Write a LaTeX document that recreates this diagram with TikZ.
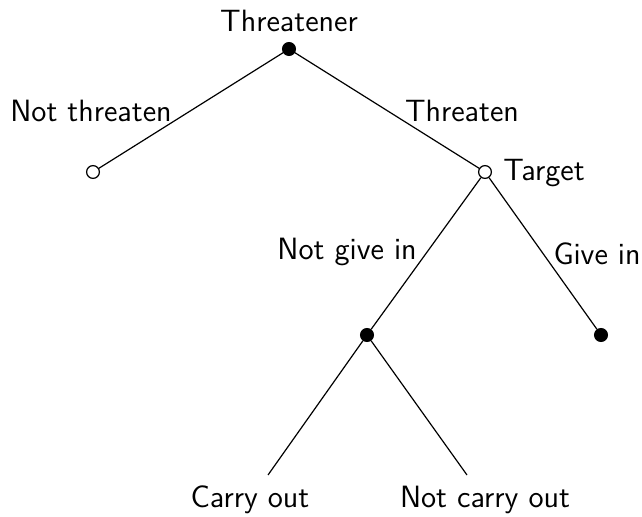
\documentclass[tikz,border=0pt]{standalone}
\begin{document}
\begin{tikzpicture}[x=0.5pt,y=-0.5pt,
  every node/.style={font=\fontsize{15.4}{18}\selectfont\sffamily},
  filleddot/.style={circle,fill=black,draw=black,line width=0.6pt,inner sep=0pt,minimum size=6.4pt},
  opendot/.style={circle,fill=white,draw=black,line width=0.6pt,inner sep=0pt,minimum size=6.4pt},
  lbl/.style={anchor=base,inner sep=0pt},
  edge/.style={line width=0.6pt,draw=black}]
\useasboundingbox (0,0) rectangle (642,517);
% nodes
\node[filleddot] (root) at (289,49) {};
\node[opendot] (left) at (93,172) {};
\node[opendot] (target) at (485,172) {};
\node[filleddot] (mid) at (367,335) {};
\node[filleddot] (right) at (601,335) {};
\coordinate (carry) at (268,475);
\coordinate (notcarry) at (467,475);
% edges
\draw[edge] (root) -- (left);
\draw[edge] (root) -- (target);
\draw[edge] (target) -- (mid);
\draw[edge] (target) -- (right);
\draw[edge] (mid) -- (carry);
\draw[edge] (mid) -- (notcarry);
% labels
\node[lbl] (tThreatener) at (289,32) {Threatener};
\node[lbl] (tNotThreaten) at (91,122) {Not threaten};
\node[lbl] (tThreaten) at (462,122) {Threaten};
\node[lbl,anchor=base west] (tTarget) at (503,181) {Target};
\node[lbl] (tNotGive) at (347,260) {Not give in};
\node[lbl] (tGive) at (597,265) {Give in};
\node[lbl] (tCarry) at (250,508) {Carry out};
\node[lbl] (tNotCarry) at (485,508) {Not carry out};
\end{tikzpicture}
\end{document}
